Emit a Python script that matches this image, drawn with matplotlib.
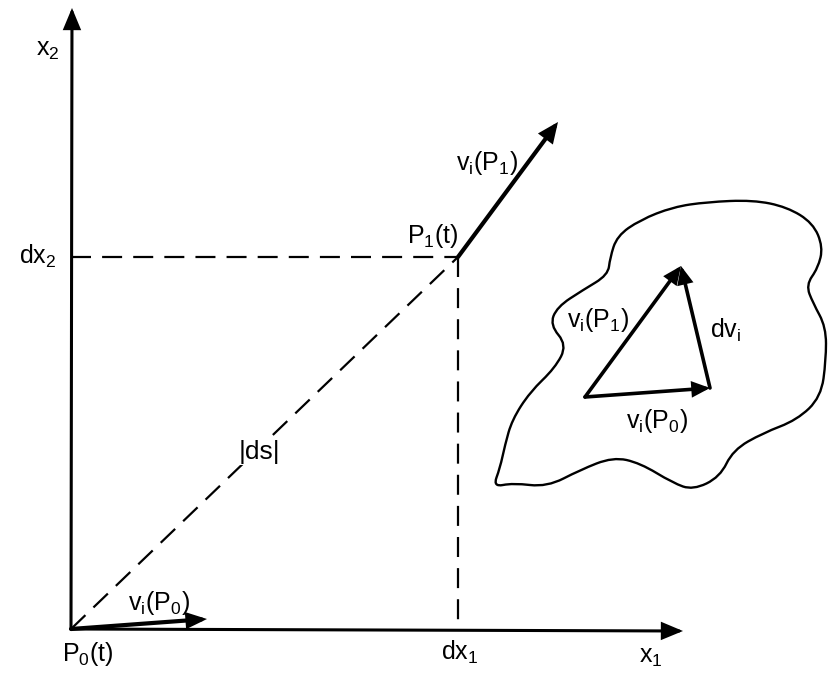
import matplotlib
matplotlib.use("Agg")
import matplotlib.pyplot as plt
from matplotlib.path import Path
from matplotlib.patches import PathPatch

plt.rcParams["font.family"] = ["Liberation Sans", "DejaVu Sans"]
plt.rcParams["mathtext.default"] = "regular"

# punkte im bild (pixel, y nach unten)
origin = (71, 629)
x_axis_tip = (683, 631)
y_axis_tip = (72, 8)
p1 = (458, 257)
v_p1_tip = (558, 122)
v_p0_tip = (207, 619)

# dreieck im gebiet
tri_left = (585, 397)
tri_apex = (681, 266)
tri_right = (710, 388)

# umriss des gebiets
blob_x = [493, 500, 505, 512, 530, 555, 567, 550, 557, 583, 608, 610, 617, 640,
          673, 707, 753, 787, 813, 823, 818, 806, 813, 826, 826, 821, 797, 763,
          733, 720, 693, 673, 640, 613, 580, 547, 513]
blob_y = [487, 468, 445, 420, 392, 368, 345, 325, 307, 290, 275, 258, 236, 220,
          207, 202, 200, 207, 223, 247, 268, 285, 303, 327, 360, 397, 420, 433,
          450, 477, 490, 483, 463, 457, 470, 487, 483]

# beschriftungen
labels = [r"$x_2$", r"$dx_2$", r"$P_1(t)$", r"$v_i(P_1)$", r"$v_i(P_0)$",
          r"$P_0(t)$", r"$dx_1$", r"$x_1$", r"$v_i(P_1)$", r"$dv_i$", r"$v_i(P_0)$"]
label_x = [48, 38, 433, 487, 159, 88, 460, 651, 598, 726, 657]
label_y = [50, 256, 236, 163, 603, 654, 652, 657, 320, 330, 421]
ds_label = "|ds|"
ds_pos = (259, 452)

fig = plt.figure(figsize=(8.29, 6.75), dpi=100)
ax = fig.add_axes([0, 0, 1, 1])
ax.set_xlim(0, 829)
ax.set_ylim(675, 0)
ax.axis("off")


def arrow(a, b, lw, hl, hw, ms=20):
    ax.annotate("", xy=b, xytext=a,
                arrowprops=dict(arrowstyle=f"-|>,head_length={hl},head_width={hw}",
                                lw=lw, color="black", shrinkA=0, shrinkB=0,
                                mutation_scale=ms, joinstyle="miter"))


# achsen
arrow(origin, x_axis_tip, 2.2, 0.6, 0.25)
arrow(origin, y_axis_tip, 2.2, 0.6, 0.25)

# gestrichelte linien
dash = (0, (9, 5))
ax.plot([origin[0], p1[0]], [p1[1], p1[1]], color="black", lw=1.6, linestyle=dash)
ax.plot([p1[0], p1[0]], [p1[1], origin[1]], color="black", lw=1.6, linestyle=dash)
ax.plot([origin[0], p1[0]], [origin[1], p1[1]], color="black", lw=1.6, linestyle=dash)

# geschwindigkeiten
arrow(p1, v_p1_tip, 3.0, 0.5, 0.22)
arrow(origin, v_p0_tip, 3.0, 0.5, 0.2)

# dreieck
arrow(tri_left, tri_right, 2.6, 0.45, 0.2)
arrow(tri_left, tri_apex, 2.6, 0.45, 0.2)
arrow(tri_right, tri_apex, 2.6, 0.45, 0.2)

# gebiet als glatte kurve (quadratische bezier durch die mittelpunkte)
n = len(blob_x)
mids = [((blob_x[k] + blob_x[(k + 1) % n]) / 2, (blob_y[k] + blob_y[(k + 1) % n]) / 2)
        for k in range(n)]
verts = [mids[-1]]
codes = [Path.MOVETO]
for k in range(n):
    verts += [(blob_x[k], blob_y[k]), mids[k]]
    codes += [Path.CURVE3, Path.CURVE3]
ax.add_patch(PathPatch(Path(verts, codes), facecolor="none", edgecolor="black", lw=1.7))

for s, x, y in zip(labels, label_x, label_y):
    ax.text(x, y, s, fontsize=18, ha="center", va="center")

# |ds| unterbricht die diagonale
ax.text(ds_pos[0], ds_pos[1], ds_label, fontsize=19, ha="center", va="center",
        bbox=dict(facecolor="white", edgecolor="none", pad=1))

plt.savefig("out.png", dpi=100)
